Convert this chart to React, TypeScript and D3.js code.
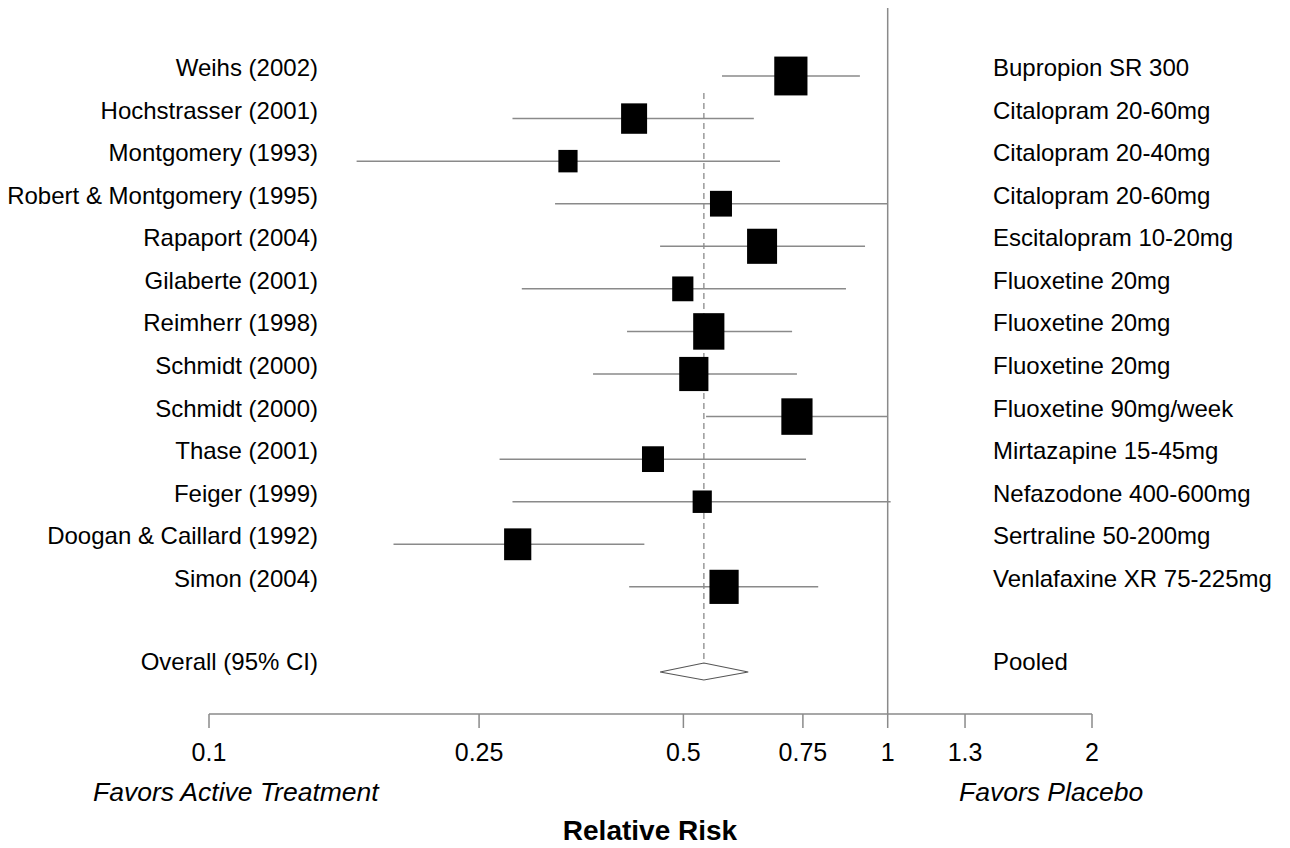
import React from "react";
import * as d3 from "d3";

const studies = [
  "Weihs (2002)",
  "Hochstrasser (2001)",
  "Montgomery (1993)",
  "Robert & Montgomery (1995)",
  "Rapaport (2004)",
  "Gilaberte (2001)",
  "Reimherr (1998)",
  "Schmidt (2000)",
  "Schmidt (2000)",
  "Thase (2001)",
  "Feiger (1999)",
  "Doogan & Caillard (1992)",
  "Simon (2004)",
];
const treatments = [
  "Bupropion SR 300",
  "Citalopram 20-60mg",
  "Citalopram 20-40mg",
  "Citalopram 20-60mg",
  "Escitalopram 10-20mg",
  "Fluoxetine 20mg",
  "Fluoxetine 20mg",
  "Fluoxetine 20mg",
  "Fluoxetine 90mg/week",
  "Mirtazapine 15-45mg",
  "Nefazodone 400-600mg",
  "Sertraline 50-200mg",
  "Venlafaxine XR 75-225mg",
];
const rr = [0.72, 0.423, 0.338, 0.568, 0.653, 0.499, 0.545, 0.518, 0.735, 0.451, 0.533, 0.285, 0.574];
const lower = [0.57, 0.28, 0.165, 0.3235, 0.462, 0.289, 0.413, 0.368, 0.54, 0.268, 0.28, 0.187, 0.416];
const upper = [0.91, 0.635, 0.694, 1.0, 0.926, 0.868, 0.723, 0.735, 1.0, 0.758, 1.01, 0.438, 0.79];
const weights = [8.3, 6.5, 4.8, 5.5, 7.5, 5.3, 7.8, 7.3, 7.8, 5.5, 4.8, 6.8, 7.3];

const pooledLabel = "Overall (95% CI)";
const pooledTreatment = "Pooled";
const pooled = [0.462, 0.536, 0.623]; // lower, estimate, upper

const tickValues = [0.1, 0.25, 0.5, 0.75, 1, 1.3, 2];
const tickLabels = ["0.1", "0.25", "0.5", "0.75", "1", "1.3", "2"];

const FONT = "Liberation Sans, Arial, sans-serif";

export default function App() {
  const W = 1290;
  const H = 848;
  const x = d3.scaleLog().domain([0.1, 2]).range([209, 1092]);
  const y = d3.scaleLinear().domain([0, 14]).range([76, 672]);
  const bw = d3.scaleLinear().domain([0, 10]).range([0, 40]);
  const axisY = 714;
  const lineColor = "#8a8a8a";

  const pooledY = y(14);
  const diamond = [
    [x(pooled[0]), pooledY],
    [x(pooled[1]), pooledY - 9],
    [x(pooled[2]), pooledY],
    [x(pooled[1]), pooledY + 8],
  ];

  return (
    <svg
      width={W}
      height={H}
      style={{ position: "absolute", left: 0, top: 0, background: "#fff" }}
      fontFamily={FONT}
    >
      <rect x={0} y={0} width={W} height={H} fill="#fff" />
      {/* null line */}
      <line x1={x(1)} x2={x(1)} y1={8} y2={axisY} stroke={lineColor} strokeWidth={1.5} />
      {/* pooled dashed line */}
      <line
        x1={x(pooled[1])}
        x2={x(pooled[1])}
        y1={93}
        y2={pooledY}
        stroke={lineColor}
        strokeWidth={1.3}
        strokeDasharray="6,4"
      />
      {studies.map((s, i) => {
        const yy = y(i);
        const w = bw(weights[i]);
        const h = w * 1.17;
        return (
          <g key={i}>
            <line
              x1={x(lower[i])}
              x2={x(upper[i])}
              y1={yy}
              y2={yy}
              stroke={lineColor}
              strokeWidth={1.5}
            />
            <rect x={x(rr[i]) - w / 2} y={yy - h / 2} width={w} height={h} fill="#000" />
            <text x={318} y={yy} textAnchor="end" fontSize={24} fill="#000">
              {s}
            </text>
            <text x={993} y={yy} textAnchor="start" fontSize={24} fill="#000">
              {treatments[i]}
            </text>
          </g>
        );
      })}
      <polygon
        points={diamond.map((p) => p.join(",")).join(" ")}
        fill="#fff"
        stroke="#555"
        strokeWidth={1.2}
      />
      <text x={318} y={y(14) - 2} textAnchor="end" fontSize={24} fill="#000">
        {pooledLabel}
      </text>
      <text x={993} y={y(14) - 2} textAnchor="start" fontSize={24} fill="#000">
        {pooledTreatment}
      </text>
      {/* axis */}
      <line x1={x(0.1)} x2={x(2)} y1={axisY} y2={axisY} stroke={lineColor} strokeWidth={1.5} />
      {tickValues.map((t, i) => (
        <g key={t}>
          <line x1={x(t)} x2={x(t)} y1={axisY} y2={axisY + 14} stroke={lineColor} strokeWidth={1.5} />
          <text x={x(t)} y={761} textAnchor="middle" fontSize={25} fill="#000">
            {tickLabels[i]}
          </text>
        </g>
      ))}
      <text x={93} y={801} fontSize={26.5} fontStyle="italic" fill="#000">
        Favors Active Treatment
      </text>
      <text x={959} y={801} fontSize={26.5} fontStyle="italic" fill="#000">
        Favors Placebo
      </text>
      <text x={650} y={840} textAnchor="middle" fontSize={28} fontWeight="bold" fill="#000">
        Relative Risk
      </text>
    </svg>
  );
}
